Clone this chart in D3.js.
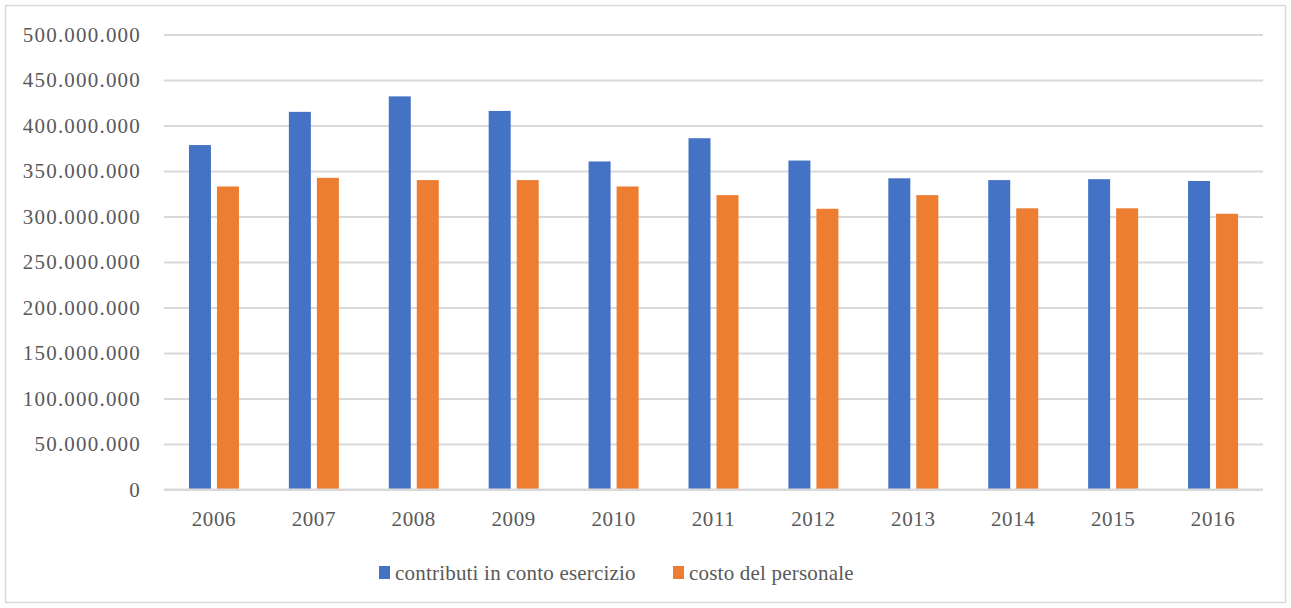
<!DOCTYPE html>
<html>
<head>
<meta charset="utf-8">
<script src="https://cdn.jsdelivr.net/npm/d3@7"></script>
<style>
  body { margin: 0; background: #fff; }
  svg text { font-family: "Liberation Serif", "DejaVu Serif", "Times New Roman", serif !important; fill: #595959; }
</style>
</head>
<body>
<svg id="chart"></svg>
<script>
// data
const years = ['2006', '2007', '2008', '2009', '2010', '2011', '2012', '2013', '2014', '2015', '2016'];
const contributi = [378.5, 415, 432, 416, 360.5, 386, 361.5, 342, 340, 341, 339].map(v => v * 1e6);
const personale = [333, 342.5, 340, 340, 333, 323.5, 308.5, 323.5, 309, 309, 303].map(v => v * 1e6);
const seriesNames = ['contributi in conto esercizio', 'costo del personale'];
const seriesColors = ['#4472C4', '#ED7D31'];
const yTicks = d3.range(0, 500000001, 50000000);

const width = 1291, height = 608;
const margin = {top: 34.5, right: 28, bottom: 118.5, left: 164};

const svg = d3.select('#chart')
  .attr('width', width)
  .attr('height', height);

// outer frame
svg.append('rect')
  .attr('x', 5.5).attr('y', 5.5)
  .attr('width', width - 11).attr('height', height - 11)
  .attr('fill', '#fff')
  .attr('stroke', '#d9d9d9')
  .attr('stroke-width', 1.5);

const innerW = width - margin.left - margin.right;
const innerH = height - margin.top - margin.bottom;

const chart = svg.append('g')
  .attr('transform', `translate(${margin.left},${margin.top})`);

const xScale = d3.scaleBand()
  .domain(years)
  .range([0, innerW]);

const yScale = d3.scaleLinear()
  .domain([0, 500000000])
  .range([innerH, 0]);

const fmt = v => d3.format(',')(v).replace(/,/g, '.');

// gridlines + y labels
const yAxis = d3.axisLeft(yScale)
  .tickValues(yTicks)
  .tickSize(-innerW)
  .tickPadding(23)
  .tickFormat(fmt);

chart.append('g')
  .attr('class', 'axis y-axis')
  .call(yAxis)
  .call(g => g.select('.domain').remove())
  .call(g => g.selectAll('line').attr('stroke', '#d9d9d9').attr('stroke-width', 2))
  .call(g => g.selectAll('text')
    .attr('font-size', 21)
    .attr('letter-spacing', 1.2));

// bars
const barW = 22, gap = 6;
const groups = [contributi, personale];
groups.forEach((vals, i) => {
  chart.append('g')
    .selectAll('rect')
    .data(vals)
    .join('rect')
    .attr('x', (d, j) => xScale(years[j]) + xScale.bandwidth() / 2 - barW - gap / 2 + i * (barW + gap))
    .attr('y', d => yScale(d))
    .attr('width', barW)
    .attr('height', d => innerH - yScale(d))
    .attr('fill', seriesColors[i]);
});

// x axis line on top of bars
chart.append('line')
  .attr('x1', 0).attr('x2', innerW)
  .attr('y1', innerH).attr('y2', innerH)
  .attr('stroke', '#d9d9d9')
  .attr('stroke-width', 2);

// x labels
const xAxis = d3.axisBottom(xScale).tickSize(0).tickPadding(22);
chart.append('g')
  .attr('transform', `translate(0,${innerH})`)
  .call(xAxis)
  .call(g => g.select('.domain').remove())
  .call(g => g.selectAll('text')
    .attr('font-size', 21)
    .attr('letter-spacing', 0.6));

// legend
const legendX = [379, 673];
const legend = svg.append('g');
seriesNames.forEach((name, i) => {
  legend.append('rect')
    .attr('x', legendX[i]).attr('y', 566)
    .attr('width', 11).attr('height', 13)
    .attr('fill', seriesColors[i]);
  legend.append('text')
    .attr('x', legendX[i] + 16).attr('y', 580)
    .attr('font-size', 21)
    .attr('letter-spacing', 0.2)
    .text(name);
});
</script>
</body>
</html>
